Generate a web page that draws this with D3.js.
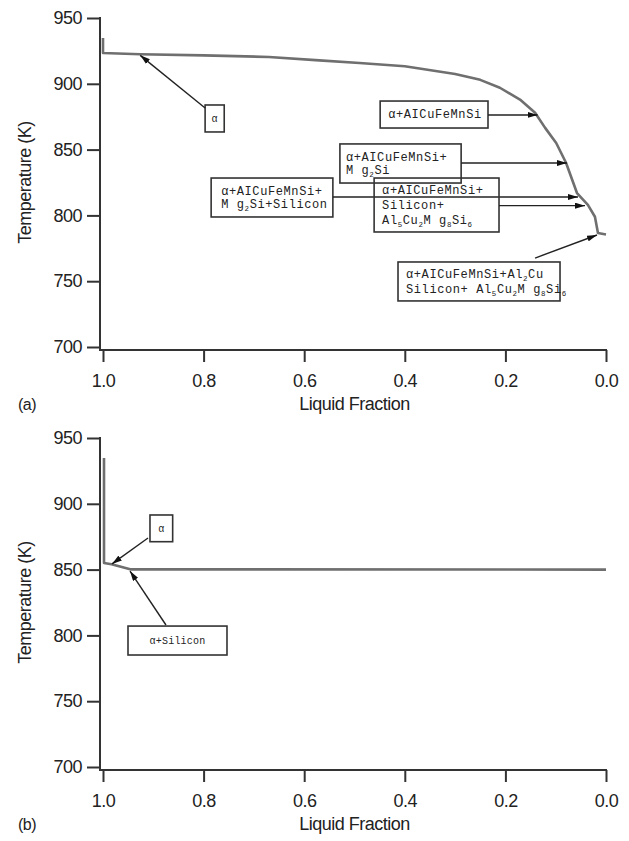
<!DOCTYPE html>
<html>
<head>
<meta charset="utf-8">
<script src="https://cdn.jsdelivr.net/npm/d3@7"></script>
<style>
  body { margin: 0; background: #fff; }
  .tick text, .lbl { font-family: "Liberation Sans", Arial, sans-serif; fill: #222; }
  .note { font-family: "Liberation Mono", "Courier New", monospace; fill: #222; }
</style>
</head>
<body>
<div id="chart"></div>
<script>
// ---- data ----
// panel (a): solidification path
var fracA = [1.0, 1.0, 0.926, 0.8, 0.67, 0.57, 0.49, 0.4, 0.3, 0.25, 0.211, 0.171, 0.141, 0.121, 0.099, 0.0795, 0.0577, 0.048, 0.036, 0.022, 0.016, 0.0];
var tempA = [934.8, 923.4, 922.5, 921.6, 920.4, 917.8, 915.8, 913.3, 907.5, 903, 897, 888, 878, 866.5, 855, 840, 817, 813, 808, 799, 786.6, 785.5];

// panel (b)
var fracB = [0.998, 0.998, 0.983, 0.946, 0.0];
var tempB = [934.8, 855, 854, 850.2, 850];

var xTicks = [1.0, 0.8, 0.6, 0.4, 0.2, 0.0];
var yTicks = [700, 750, 800, 850, 900, 950];

// annotation boxes: [left frac, right frac, top T, bottom T], arrow from -> to in data units
var notesA = [
  { box: [0.797, 0.759, 883.9, 863.4], lines: ["α"], size: 10, center: true,
    arrow: [[0.797, 881.6], [0.926, 921.6]] },
  { box: [0.449, 0.2346, 886.9, 866.4], lines: ["α+AICuFeMnSi"],
    arrow: [[0.2346, 876.3], [0.136, 876.3]] },
  { box: [0.529, 0.288, 854.3, 824.6], lines: ["α+AICuFeMnSi+", "M g_2Si"], pad: 6,
    arrow: [[0.288, 839.8], [0.0775, 839.8]] },
  { box: [0.785, 0.543, 828.4, 798.8], lines: ["α+AICuFeMnSi+", "M g_2Si+Silicon"], pad: 10,
    arrow: [[0.543, 814], [0.0557, 814]] },
  { box: [0.461, 0.2127, 828.4, 787.4], lines: ["α+AICuFeMnSi+", "Silicon+", "Al_5Cu_2M g_8Si_6"], lh: 15,
    arrow: [[0.2127, 807.4], [0.0417, 807.4]] },
  { box: [0.4135, 0.0914, 764.6, 735], lines: ["α+AICuFeMnSi+Al_2Cu", "Silicon+ Al_5Cu_2M g_8Si_6"], lh: 15,
    arrow: [[0.141, 767.6], [0.0179, 785.1]] }
];

var notesB = [
  { box: [0.9066, 0.8615, 891.5, 871.2], lines: ["α"], size: 10, center: true,
    arrow: [[0.9105, 874], [0.9821, 854.3]] },
  { box: [0.9503, 0.7535, 807.1, 785.1], lines: ["α+Silicon"], size: 10, center: true,
    arrow: [[0.8748, 807.9], [0.9463, 848.9]] }
];

var W = 629, H = 841;
var svg = d3.select("#chart").append("svg")
  .attr("width", W)
  .attr("height", H);

svg.append("defs").append("marker")
  .attr("id", "arr")
  .attr("viewBox", "0 0 10 6")
  .attr("refX", 10).attr("refY", 3)
  .attr("markerWidth", 10).attr("markerHeight", 6)
  .attr("markerUnits", "userSpaceOnUse")
  .attr("orient", "auto")
  .append("path")
  .attr("d", "M0,0L10,3L0,6Z")
  .attr("fill", "#111");

// write "Al_5Cu" style text with subscripts
function addLine(t, str, size) {
  var parts = str.split(/_(\d)/);
  var shift = 0;
  parts.forEach(function(p, i) {
    if (p === "") return;
    var sub = i % 2 === 1;
    var target = sub ? 3 : 0;
    var ts = t.append("tspan").text(p);
    if (target !== shift) ts.attr("dy", target - shift);
    shift = target;
    if (sub) ts.attr("font-size", size * 0.62);
  });
}

function drawPanel(top, frac, temp, notes, tag) {
  var x = d3.scaleLinear().domain([1, 0]).range([103, 606]);
  var y = d3.scaleLinear().domain([700, 950]).range([top + 347, top + 18]);
  var g = svg.append("g");
  var axisY = top + 350;

  // y axis
  var yAxis = d3.axisLeft(y).tickValues(yTicks).tickSize(13).tickSizeOuter(0).tickPadding(5);
  var ya = g.append("g").attr("transform", "translate(100,0)").call(yAxis);
  ya.select(".domain").remove();
  ya.selectAll(".tick line").attr("stroke", "#333").attr("stroke-width", 2);
  ya.selectAll(".tick text").attr("font-size", 18).attr("letter-spacing", -0.5);

  // x axis
  var xAxis = d3.axisBottom(x).tickValues(xTicks).tickSize(12).tickSizeOuter(0).tickPadding(12)
    .tickFormat(d3.format(".1f"));
  var xa = g.append("g").attr("transform", "translate(0," + axisY + ")").call(xAxis);
  xa.select(".domain").remove();
  xa.selectAll(".tick line").attr("stroke", "#333").attr("stroke-width", 2);
  xa.selectAll(".tick text").attr("font-size", 18).attr("letter-spacing", -0.5);

  g.append("line").attr("x1", 100).attr("x2", 100).attr("y1", y(950) - 1).attr("y2", axisY + 1)
    .attr("stroke", "#333").attr("stroke-width", 2);
  g.append("line").attr("x1", 100).attr("x2", x(0) + 1).attr("y1", axisY).attr("y2", axisY)
    .attr("stroke", "#333").attr("stroke-width", 2);

  // titles
  g.append("text").attr("class", "lbl")
    .attr("transform", "translate(31," + (y(825)) + ") rotate(-90)")
    .attr("text-anchor", "middle").attr("font-size", 18).attr("letter-spacing", -0.5)
    .text("Temperature (K)");
  g.append("text").attr("class", "lbl")
    .attr("x", (x(1) + x(0)) / 2).attr("y", axisY + 60)
    .attr("text-anchor", "middle").attr("font-size", 18).attr("letter-spacing", -0.5)
    .text("Liquid Fraction");
  g.append("text").attr("class", "lbl")
    .attr("x", 18).attr("y", axisY + 60)
    .attr("font-size", 16).attr("letter-spacing", -0.5)
    .text(tag);

  // curve
  var pts = d3.zip(frac, temp);
  g.append("path")
    .datum(pts)
    .attr("d", d3.line().x(function(d) { return x(d[0]); }).y(function(d) { return y(d[1]); }))
    .attr("fill", "none")
    .attr("stroke", "#6f6f6f")
    .attr("stroke-width", 2.6)
    .attr("stroke-linejoin", "round");

  // annotations
  notes.forEach(function(n) {
    var bx = x(n.box[0]), bx2 = x(n.box[1]), by = y(n.box[2]), by2 = y(n.box[3]);
    g.append("rect").attr("x", bx).attr("y", by)
      .attr("width", bx2 - bx).attr("height", by2 - by)
      .attr("fill", "none").attr("stroke", "#333").attr("stroke-width", 1.6);
    g.append("line")
      .attr("x1", x(n.arrow[0][0])).attr("y1", y(n.arrow[0][1]))
      .attr("x2", x(n.arrow[1][0])).attr("y2", y(n.arrow[1][1]))
      .attr("stroke", "#222").attr("stroke-width", 1.4)
      .attr("marker-end", "url(#arr)");
    var size = n.size || 12;
    var lh = n.lh || 13;
    var bh = by2 - by;
    var y0 = by + (bh - n.lines.length * lh) / 2 + lh * 0.78;
    n.lines.forEach(function(s, i) {
      var t = g.append("text").attr("class", "note")
        .attr("font-size", size)
        .attr("letter-spacing", size < 12 ? 0.2 : 0.6)
        .attr("y", y0 + i * lh);
      if (n.center) {
        t.attr("x", (bx + bx2) / 2).attr("text-anchor", "middle");
      } else {
        t.attr("x", bx + (n.pad || 8));
      }
      addLine(t, s, size);
    });
  });
}

drawPanel(0, fracA, tempA, notesA, "(a)");
drawPanel(420, fracB, tempB, notesB, "(b)");
</script>
</body>
</html>
